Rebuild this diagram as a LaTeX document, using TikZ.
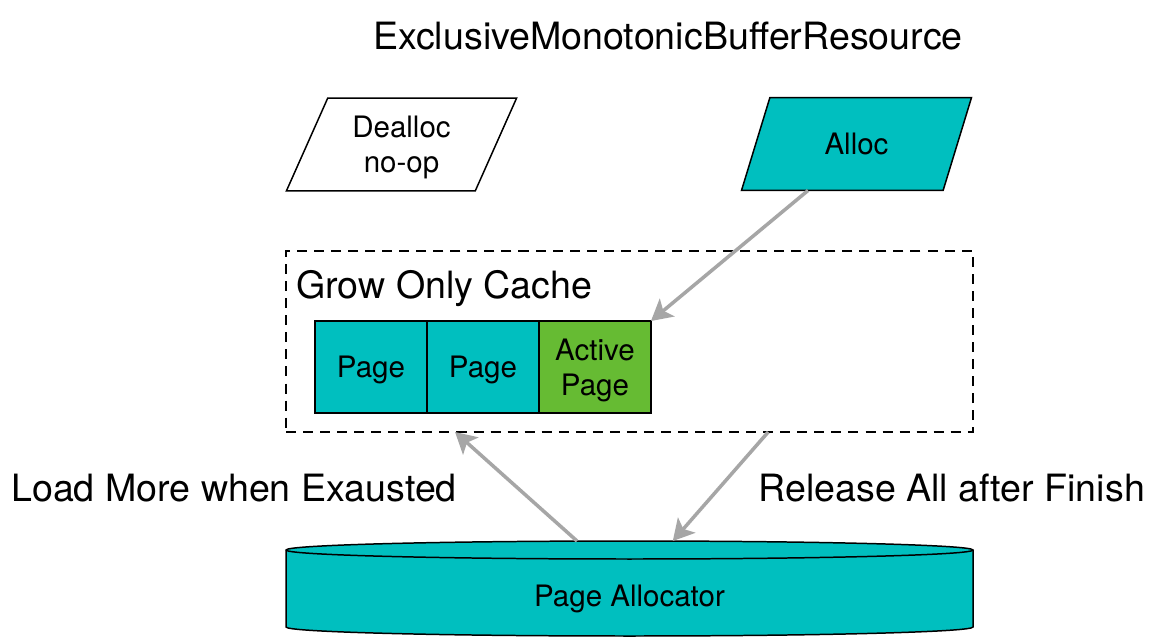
\documentclass[tikz,border=0pt]{standalone}
\usepackage{fontspec}
\setmainfont{TeX Gyre Heros}
\usepackage{xcolor}
\usetikzlibrary{shapes.geometric, arrows.meta, positioning, calc}
\definecolor{pageteal}{RGB}{0, 191, 191}
\definecolor{activegreen}{RGB}{102, 187, 51}
\definecolor{flowgray}{RGB}{166, 166, 166}
\tikzset{
  font=\fontsize{16.8}{20}\selectfont,
  baseblock/.style={
    rectangle, draw=black, line width=0.85pt,
    align=center, inner sep=0pt, outer sep=0pt, text depth=0pt
  },
  pageblock/.style={baseblock, fill=pageteal, minimum width=2.24cm, minimum height=1.84cm},
  activeblock/.style={pageblock, fill=activegreen},
  opblock/.style={
    trapezium, trapezium left angle=64, trapezium right angle=116,
    trapezium stretches=true, draw=black, line width=0.85pt,
    minimum width=4.62cm, minimum height=1.86cm,
    align=center, inner sep=0pt, outer sep=0pt, text depth=0pt
  },
  groupbox/.style={
    rectangle, draw=black, line width=0.85pt, dash pattern=on 5.7pt off 4pt,
    minimum width=13.74cm, minimum height=3.62cm, inner sep=0pt, outer sep=0pt
  },
  storeblock/.style={fill=pageteal, draw=black, line width=0.85pt},
  biglabel/.style={font=\fontsize{21.4}{25}\selectfont, inner sep=0pt},
  flowline/.style={
    draw=flowgray, line width=2pt, -{Stealth[length=0.42cm, width=0.46cm, inset=0.1cm]}
  }
}

\begin{document}
\begin{tikzpicture}[x=0.02cm, y=0.02cm]

  \path[use as bounding box, fill=white] (0,0) rectangle (1152,-638);

  % Title
  \node[biglabel, anchor=base] (title_lbl) at (668,-50) {ExclusiveMonotonicBufferResource};

  % Operations
  \node[opblock, fill=white] (dealloc_op) at (401.5,-144.5) {Dealloc\\no-op};
  \node[opblock, fill=pageteal] (alloc_op) at (856.5,-144) {Alloc};

  % Grow only cache with its pages
  \node[groupbox] (cache_box) at (629.5,-341.5) {};
  \node[biglabel, anchor=base west] (cache_lbl) at (296,-298) {Grow Only Cache};
  \node[pageblock] (page_one) at (371,-367) {Page};
  \node[pageblock, right=0pt of page_one] (page_two) {Page};
  \node[activeblock, right=0pt of page_two] (active_page) {Active\\Page};

  % Page allocator (cylinder drawn by hand)
  \draw[storeblock] (286,-550) -- (286,-627)
    arc[start angle=180, end angle=360, x radius=343.5, y radius=9] -- (973,-550)
    arc[start angle=0, end angle=180, x radius=343.5, y radius=9] -- cycle;
  \draw[line width=0.85pt] (286,-550) arc[start angle=180, end angle=360, x radius=343.5, y radius=9];
  \node[minimum width=13.74cm, minimum height=2.32cm, inner sep=0pt, outer sep=0pt] (page_alloc) at (629.5,-599) {Page Allocator};

  % Flows
  \draw[flowline] ($(alloc_op.bottom left corner)!0.33!(alloc_op.bottom right corner)$) -- (active_page.north east);
  \draw[flowline] ($(page_alloc.north west)!0.4236!(page_alloc.north east)$) -- ($(cache_box.south west)!0.246!(cache_box.south east)$);
  \draw[flowline] ($(cache_box.south west)!0.702!(cache_box.south east)$) -- ($(page_alloc.north west)!0.563!(page_alloc.north east)$);

  % Flow labels
  \node[biglabel, anchor=base] (load_lbl) at (234,-501) {Load More when Exausted};
  \node[biglabel, anchor=base west] (release_lbl) at (758,-501) {Release All after Finish};

\end{tikzpicture}
\end{document}
